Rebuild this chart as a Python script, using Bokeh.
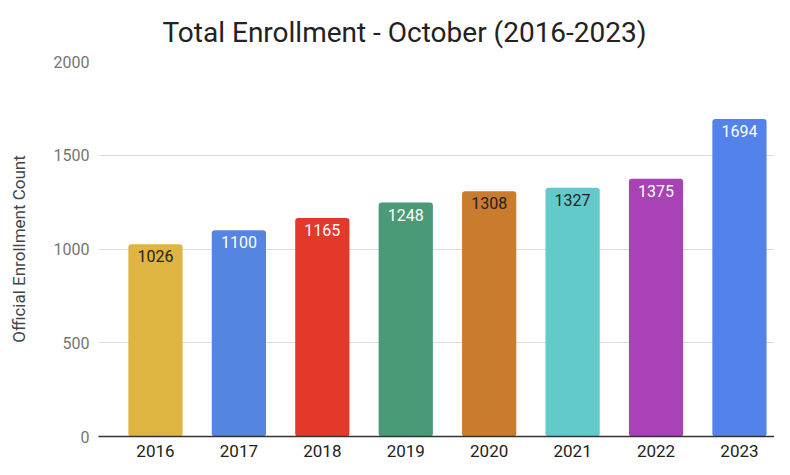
from bokeh.plotting import figure
from bokeh.models import ColumnDataSource, Range1d, FixedTicker, LabelSet
from bokeh.core.properties import value
from bokeh.embed import file_html
from bokeh.resources import INLINE

years = ["2016", "2017", "2018", "2019", "2020", "2021", "2022", "2023"]
counts = [1026, 1100, 1165, 1248, 1308, 1327, 1375, 1694]
colors = ["#DEB443", "#5585E0", "#E3382A", "#4A9A77", "#C97B2E", "#62CACA", "#A942B6", "#5383EA"]
label_colors = ["#222222", "#FFFFFF", "#FFFFFF", "#FFFFFF", "#222222", "#222222", "#FFFFFF", "#FFFFFF"]
y_ticks = [0, 500, 1000, 1500, 2000]

xs = list(range(len(years)))
src = ColumnDataSource(dict(x=xs, year=years, count=counts, color=colors,
                            lcolor=label_colors, label=[str(c) for c in counts]))

p = figure(width=774, height=459, output_backend="svg", toolbar_location=None,
           x_range=Range1d(-0.683, 7.42), y_range=Range1d(0, 2000),
           min_border_left=98, min_border_right=0, min_border_top=60, min_border_bottom=21)

p.vbar(x="x", top="count", width=0.65, fill_color="color", line_color=None,
       border_radius=3, source=src)

labels = LabelSet(x="x", y="count", text="label", source=src, text_align="center",
                  text_baseline="top", y_offset=-6, text_color="lcolor",
                  text_font=value("Roboto"), text_font_size=value("16px"))
p.add_layout(labels)

p.title.text = "Total Enrollment - October (2016-2023)"
p.title.align = "left"
p.title.offset = 64
p.title.standoff = 26
p.title.text_font = "Roboto"
p.title.text_font_size = "28px"
p.title.text_font_style = "normal"
p.title.text_color = "#222222"

p.outline_line_color = None
p.xgrid.grid_line_color = None
p.ygrid.ticker = FixedTicker(ticks=y_ticks)
p.ygrid.grid_line_color = "#DDDDDD"

p.xaxis.ticker = FixedTicker(ticks=xs)
p.xaxis.major_label_overrides = {i: y for i, y in zip(xs, years)}
p.xaxis.axis_line_color = "#333333"
p.xaxis.axis_line_width = 1.5
p.xaxis.major_tick_line_color = None
p.xaxis.minor_tick_line_color = None
p.xaxis.major_label_standoff = 2
p.xaxis.major_label_text_font = "Roboto"
p.xaxis.major_label_text_font_size = "17px"
p.xaxis.major_label_text_color = "#222222"

p.yaxis.ticker = FixedTicker(ticks=y_ticks)
p.yaxis.axis_line_color = None
p.yaxis.major_tick_line_color = None
p.yaxis.minor_tick_line_color = None
p.yaxis.major_label_standoff = 3
p.yaxis.major_label_text_font = "Roboto"
p.yaxis.major_label_text_font_size = "16px"
p.yaxis.major_label_text_color = "#757575"
p.yaxis.axis_label = "Official Enrollment Count"
p.yaxis.axis_label_text_font = "Roboto"
p.yaxis.axis_label_text_font_size = "17px"
p.yaxis.axis_label_text_font_style = "normal"
p.yaxis.axis_label_text_color = "#444444"
p.yaxis.axis_label_standoff = 22

open("out.html", "w").write(file_html(p, INLINE))
